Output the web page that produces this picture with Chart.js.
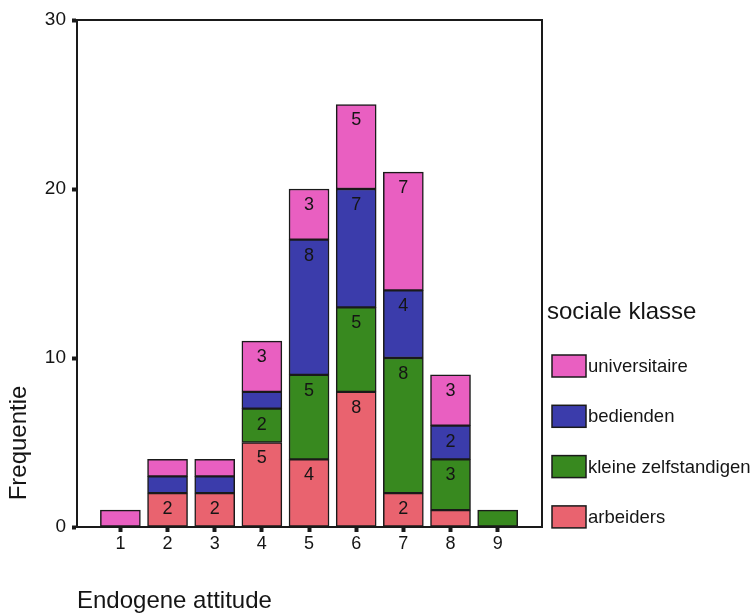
<!DOCTYPE html>
<html lang="nl">
<head>
  <meta charset="UTF-8" />
  <title>Endogene attitude per sociale klasse</title>
  <script src="https://cdn.jsdelivr.net/npm/chart.js@4.4.1/dist/chart.umd.min.js"></script>
  <style>
    html, body { margin: 0; padding: 0; background: #fff; }
    #wrap { width: 753px; height: 615px; }
  </style>
</head>
<body>
  <div id="wrap"><canvas id="chart" width="753" height="615"></canvas></div>

  <script>
    // categories on the x axis (Endogene attitude)
    const categories = [1, 2, 3, 4, 5, 6, 7, 8, 9];
    // frequencies per social class, bottom of the stack first
    const arbeiders = [null, 2, 2, 5, 4, 8, 2, 1, null];
    const kleineZelfstandigen = [null, null, null, 2, 5, 5, 8, 3, 1];
    const bedienden = [null, 1, 1, 1, 8, 7, 4, 2, null];
    const universitaire = [1, 1, 1, 3, 3, 5, 7, 3, null];
    const yTicks = [0, 10, 20, 30];

    const FONT = "Arial, 'Liberation Sans', sans-serif";
    const INK = '#151515';

    const series = [
      { label: 'arbeiders', values: arbeiders, color: '#e9636f' },
      { label: 'kleine zelfstandigen', values: kleineZelfstandigen, color: '#38891f' },
      { label: 'bedienden', values: bedienden, color: '#3b3cab' },
      { label: 'universitaire', values: universitaire, color: '#e95fc1' }
    ];

    const toPoints = vals => categories
      .map((c, i) => ({ x: c, y: vals[i] }))
      .filter(p => p.y !== null);

    // numbers written inside the segments
    const segmentLabels = {
      id: 'segmentLabels',
      afterDatasetsDraw(chart) {
        const ctx = chart.ctx;
        ctx.save();
        ctx.font = '18px ' + FONT;
        ctx.fillStyle = INK;
        ctx.textAlign = 'center';
        ctx.textBaseline = 'middle';
        chart.data.datasets.forEach((ds, di) => {
          const meta = chart.getDatasetMeta(di);
          meta.data.forEach((el, i) => {
            const v = ds.data[i].y;
            if (v < 2) return;
            const y = Math.min(el.y + 16, (el.y + el.base) / 2);
            ctx.fillText(String(v), el.x, y);
          });
        });
        ctx.restore();
      }
    };

    // frame, axis titles and the legend on the right
    const decorations = {
      id: 'decorations',
      afterDraw(chart) {
        const ctx = chart.ctx;
        const a = chart.chartArea;
        ctx.save();
        ctx.strokeStyle = '#1a1a1a';
        ctx.lineWidth = 2;
        ctx.beginPath();
        ctx.moveTo(a.left, a.top);
        ctx.lineTo(a.right, a.top);
        ctx.lineTo(a.right, a.bottom);
        ctx.stroke();

        ctx.fillStyle = INK;
        ctx.font = '24px ' + FONT;
        ctx.textAlign = 'left';
        ctx.textBaseline = 'alphabetic';
        ctx.fillText('Endogene attitude', 77, 608);

        ctx.save();
        ctx.translate(26, 443);
        ctx.rotate(-Math.PI / 2);
        ctx.textAlign = 'center';
        ctx.fillText('Frequentie', 0, 0);
        ctx.restore();

        ctx.fillText('sociale klasse', 547, 319);

        const items = series.slice().reverse();
        ctx.font = '18.5px ' + FONT;
        ctx.textBaseline = 'middle';
        items.forEach((s, i) => {
          const cy = 366 + i * 50.3;
          ctx.fillStyle = s.color;
          ctx.fillRect(552, cy - 11, 34, 22);
          ctx.strokeStyle = '#1a1a1a';
          ctx.lineWidth = 1.5;
          ctx.strokeRect(552, cy - 11, 34, 22);
          ctx.fillStyle = INK;
          ctx.fillText(s.label, 588, cy + 1);
        });
        ctx.restore();
      }
    };

    new Chart(document.getElementById('chart'), {
      type: 'bar',
      data: {
        datasets: series.map(s => ({
          label: s.label,
          data: toPoints(s.values),
          backgroundColor: s.color,
          borderColor: '#1a1a1a',
          borderWidth: 1.5,
          borderSkipped: false,
          barThickness: 40
        }))
      },
      options: {
        responsive: false,
        animation: false,
        layout: { padding: { top: 20, right: 211, left: 0, bottom: 0 } },
        plugins: {
          legend: { display: false },
          tooltip: { enabled: false }
        },
        scales: {
          x: {
            type: 'linear',
            stacked: true,
            offset: false,
            min: 0.08,
            max: 9.94,
            afterBuildTicks: s => { s.ticks = categories.map(v => ({ value: v })); },
            afterFit: s => { s.height = 88; },
            grid: { display: true, offset: false, drawOnChartArea: false, drawTicks: true, tickLength: 5, tickWidth: 4, color: '#1a1a1a' },
            border: { display: true, color: '#1a1a1a', width: 2 },
            ticks: { color: INK, font: { family: FONT, size: 18 }, padding: 1, callback: v => String(v) }
          },
          y: {
            stacked: true,
            min: 0,
            max: 30,
            afterBuildTicks: s => { s.ticks = yTicks.map(v => ({ value: v })); },
            afterFit: s => { s.width = 77; },
            grid: { display: true, drawOnChartArea: false, drawTicks: true, tickLength: 5, tickWidth: 4, color: '#1a1a1a' },
            border: { display: true, color: '#1a1a1a', width: 2 },
            ticks: { color: INK, font: { family: FONT, size: 19 }, padding: 6 }
          }
        }
      },
      plugins: [segmentLabels, decorations]
    });
  </script>
</body>
</html>
